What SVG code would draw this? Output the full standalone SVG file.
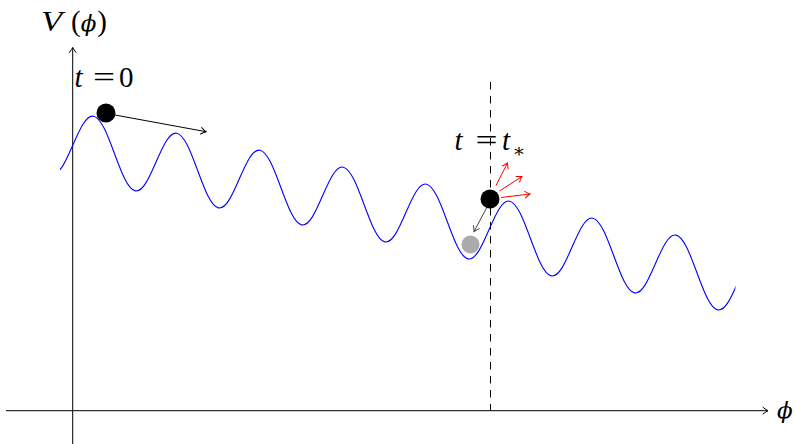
<svg xmlns="http://www.w3.org/2000/svg" width="795" height="444" viewBox="0 0 795 444">
<style>
.ax{stroke:#000;stroke-width:1;fill:none}
.ital{font-family:"Liberation Serif","DejaVu Serif",serif;font-style:italic;font-size:29px;fill:#000}
.rom{font-family:"Liberation Serif","DejaVu Serif",serif;font-size:29px;fill:#000}
.phi{font-family:"DejaVu Serif",serif;font-style:italic;font-size:23px;fill:#000}
</style>
<defs>
<marker id="hb" markerUnits="userSpaceOnUse" markerWidth="12" markerHeight="12" refX="0" refY="0" viewBox="-7 -6 8 12" orient="auto" overflow="visible">
<path d="M-5,-3.3 Q-1.5,-0.7 0,0 Q-1.5,0.7 -5,3.3" fill="none" stroke="#000" stroke-width="1" stroke-linecap="round"/>
</marker>
<marker id="hr" markerUnits="userSpaceOnUse" markerWidth="12" markerHeight="12" refX="0" refY="0" viewBox="-7 -6 8 12" orient="auto" overflow="visible">
<path d="M-5,-3.3 Q-1.5,-0.7 0,0 Q-1.5,0.7 -5,3.3" fill="none" stroke="#ff0000" stroke-width="1" stroke-linecap="round"/>
</marker>
<marker id="hg" markerUnits="userSpaceOnUse" markerWidth="12" markerHeight="12" refX="0" refY="0" viewBox="-7 -6 8 12" orient="auto" overflow="visible">
<path d="M-5,-3.3 Q-1.5,-0.7 0,0 Q-1.5,0.7 -5,3.3" fill="none" stroke="#444" stroke-width="1" stroke-linecap="round"/>
</marker>
<clipPath id="cl"><rect x="60" y="0" width="675.5" height="444"/></clipPath>
</defs>

<g id="axes">
<line class="ax" x1="72.7" y1="444" x2="72.7" y2="47.5" marker-end="url(#hb)"/>
<line class="ax" x1="6" y1="410.7" x2="768" y2="410.7" marker-end="url(#hb)"/>
<line class="ax" x1="490.5" y1="82" x2="490.5" y2="410.7" stroke-dasharray="7.5 6.5"/>
</g>

<g id="potential" clip-path="url(#cl)">
<path transform="matrix(13.242 2.705 0 33.1 114.45 153.54)" vector-effect="non-scaling-stroke" fill="none" stroke="#0000ff" stroke-width="1.1"
d="M-4.7124,1 c0.5685,0 1.0585,-0.4877 1.5708,-1
s1.0023,-1 1.5708,-1 s1.0585,0.4877 1.5708,1 s1.0023,1 1.5708,1 s1.0585,-0.4877 1.5708,-1
s1.0023,-1 1.5708,-1 s1.0585,0.4877 1.5708,1 s1.0023,1 1.5708,1 s1.0585,-0.4877 1.5708,-1
s1.0023,-1 1.5708,-1 s1.0585,0.4877 1.5708,1 s1.0023,1 1.5708,1 s1.0585,-0.4877 1.5708,-1
s1.0023,-1 1.5708,-1 s1.0585,0.4877 1.5708,1 s1.0023,1 1.5708,1 s1.0585,-0.4877 1.5708,-1
s1.0023,-1 1.5708,-1 s1.0585,0.4877 1.5708,1 s1.0023,1 1.5708,1 s1.0585,-0.4877 1.5708,-1
s1.0023,-1 1.5708,-1 s1.0585,0.4877 1.5708,1 s1.0023,1 1.5708,1 s1.0585,-0.4877 1.5708,-1
s1.0023,-1 1.5708,-1 s1.0585,0.4877 1.5708,1 s1.0023,1 1.5708,1 s1.0585,-0.4877 1.5708,-1
s1.0023,-1 1.5708,-1 s1.0585,0.4877 1.5708,1 s1.0023,1 1.5708,1 s1.0585,-0.4877 1.5708,-1"/>
</g>

<g id="connectors">
<line x1="115" y1="115" x2="206" y2="131.7" stroke="#000" stroke-width="1" marker-end="url(#hb)"/>
<line x1="486.5" y1="208" x2="474" y2="231.5" stroke="#444" stroke-width="1" marker-end="url(#hg)"/>
<line x1="496" y1="185.5" x2="507.5" y2="163" stroke="#ff0000" stroke-width="1" marker-end="url(#hr)"/>
<line x1="499.5" y1="191" x2="522" y2="176.5" stroke="#ff0000" stroke-width="1" marker-end="url(#hr)"/>
<line x1="501" y1="197.5" x2="530" y2="194" stroke="#ff0000" stroke-width="1" marker-end="url(#hr)"/>
</g>

<g id="ball-t0"><circle cx="106" cy="113" r="9.5" fill="#000"/></g>
<g id="ball-tstar"><circle cx="490" cy="199" r="9.5" fill="#000"/></g>
<g id="ball-ghost"><circle cx="470.5" cy="244.5" r="9" fill="#aaaaaa"/></g>

<g id="labels">
<text class="ital" transform="translate(41,30.5) scale(1.2,1)">V</text>
<text x="71" y="31" class="rom">(<tspan class="phi" dx="0">ϕ</tspan><tspan dx="1">)</tspan></text>
<text x="74.5" y="86.5" class="ital">t</text>
<text class="rom" transform="translate(93,86.5) scale(1.35,1)">=</text>
<text x="119" y="86.5" class="rom">0</text>
<text x="454.5" y="150" class="ital">t</text>
<text class="rom" transform="translate(475.5,150) scale(1.35,1)">=</text>
<text x="502" y="150" class="ital">t</text>
<text x="512.5" y="157" class="rom" style="font-size:19px">∗</text>
<text x="777" y="418" class="phi">ϕ</text>
</g>
</svg>
